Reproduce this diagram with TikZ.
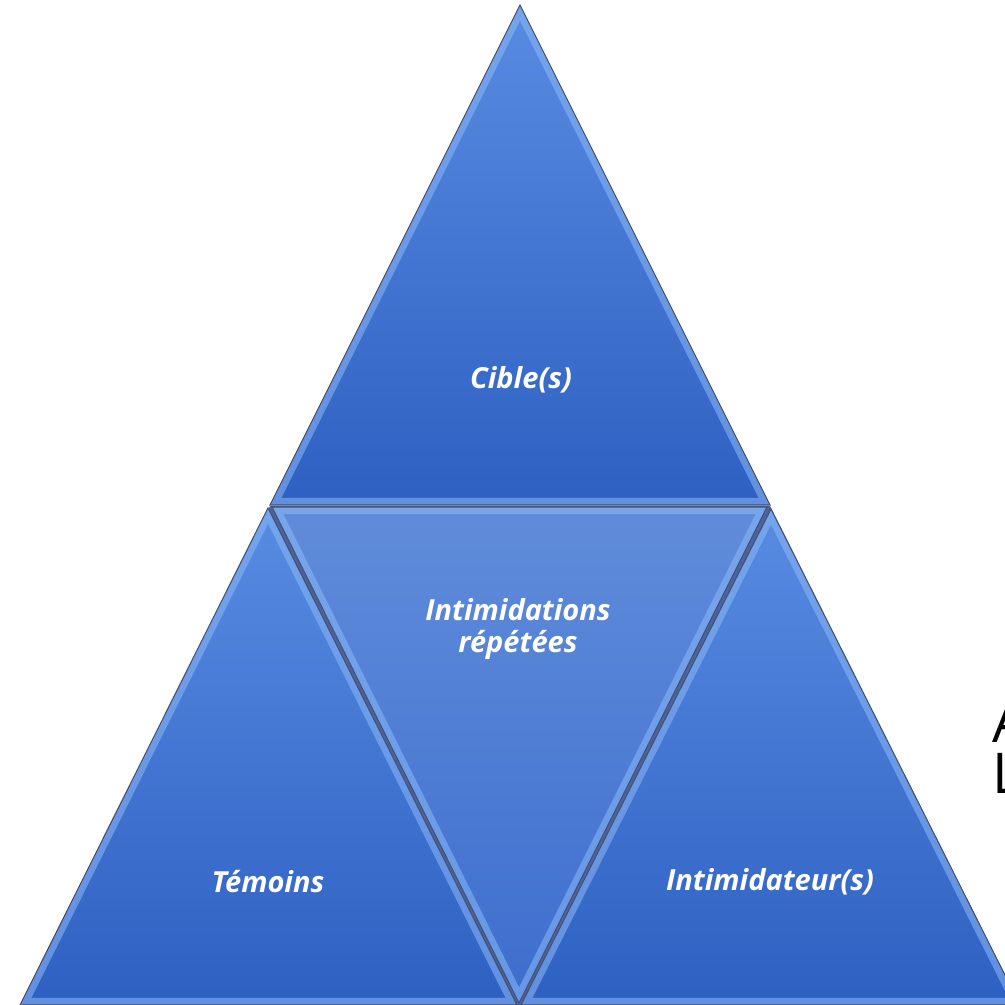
\documentclass[tikz,border=0pt]{standalone}
\usepackage{fontspec}
\setmainfont{Open Sans}
\definecolor{facetlight}{RGB}{88,140,226}
\definecolor{facetdark}{RGB}{46,96,194}
\definecolor{midlight}{RGB}{96,140,218}
\definecolor{middark}{RGB}{60,110,206}
\definecolor{bevelblue}{RGB}{140,185,248}
\definecolor{edgegray}{RGB}{70,80,110}
\definecolor{seamblue}{RGB}{72,100,160}

\tikzset{
  bevel/.style={draw=bevelblue, line width=8pt, opacity=0.55, line join=miter},
  edge/.style={draw=edgegray, line width=0.6pt, line join=miter},
  label/.style={text=white, font=\bfseries\itshape\fontsize{16.5}{18.5}\selectfont, align=center},
  stray/.style={text=black, font=\fontsize{32}{36}\selectfont, anchor=west, inner sep=0pt}
}

% one bevelled face of the pyramid
\newcommand\facet[3]{%
  \begin{scope}
    \clip #1 -- cycle;
    \shade[top color=#2, bottom color=#3] #1 -- cycle;
    \draw[bevel] #1 -- cycle;
  \end{scope}
  \draw[edge] #1 -- cycle;
}

\begin{document}
\begin{tikzpicture}[x=0.02cm, y=-0.02cm]
  \useasboundingbox (0,0) rectangle (1005,1005);
  \fill[white] (0,0) rectangle (1005,1005);

  % stray slide text cut by the right edge
  \node[stray] (textA) at (992,722) {A};
  \node[stray] (textL) at (992,773) {L};

  % seams under the lower faces
  \fill[seamblue] (270,506) -- (770,506) -- (1020,1005) -- (20,1005) -- cycle;

  % top face
  \facet{(520,5) -- (770,505) -- (270,505)}{facetlight}{facetdark}
  % middle face, upside down
  \facet{(272,507) -- (767,507) -- (519,1003)}{midlight}{middark}
  % lower left face
  \facet{(268,508) -- (517,1005) -- (20,1005)}{facetlight}{facetdark}
  % lower right face
  \facet{(771,509) -- (1020,1005) -- (521,1005)}{facetlight}{facetdark}

  \node[label] (cible) at (521,380) {Cible(s)};
  \node[label] (repet) at (518,629) {Intimidations\\répétées};
  \node[label] (temoin) at (268,882) {Témoins};
  \node[label] (intim) at (770,882) {Intimidateur(s)};
\end{tikzpicture}
\end{document}
